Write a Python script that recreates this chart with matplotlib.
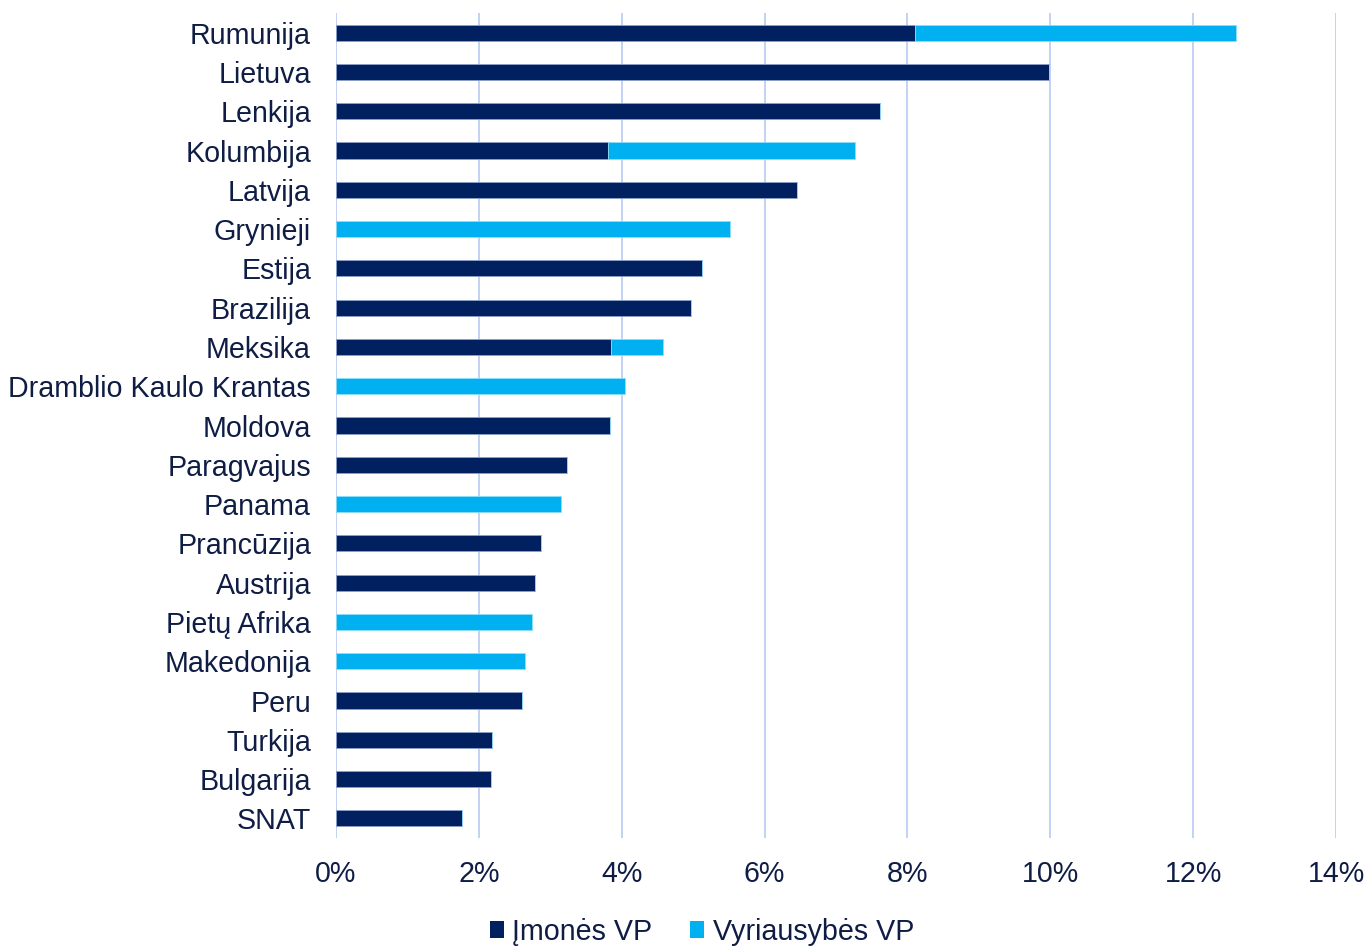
import matplotlib
matplotlib.use("Agg")
import matplotlib.pyplot as plt
from matplotlib.patches import Patch
from matplotlib.ticker import FuncFormatter, MultipleLocator

categories = ["Rumunija", "Lietuva", "Lenkija", "Kolumbija", "Latvija", "Grynieji",
              "Estija", "Brazilija", "Meksika", "Dramblio Kaulo Krantas", "Moldova",
              "Paragvajus", "Panama", "Prancūzija", "Austrija", "Pietų Afrika",
              "Makedonija", "Peru", "Turkija", "Bulgarija", "SNAT"]
imones = [8.10, 9.98, 7.62, 3.81, 6.45, 0.0, 5.13, 4.97, 3.85, 0.0, 3.83,
          3.23, 0.0, 2.87, 2.78, 0.0, 0.0, 2.61, 2.19, 2.17, 1.77]
vyriausybes = [4.50, 0.0, 0.0, 3.45, 0.0, 5.51, 0.0, 0.0, 0.73, 4.05, 0.0,
               0.0, 3.15, 0.0, 0.0, 2.74, 2.65, 0.0, 0.0, 0.0, 0.0]
series_names = ["Įmonės VP", "Vyriausybės VP"]

DARK = "#002060"
LIGHT = "#00B0F0"
TEXT = "#0F1D45"
GRID = "#C3D2F5"

plt.rcParams['font.family'] = ['Liberation Sans', 'DejaVu Sans']

fig = plt.figure(figsize=(13.68, 9.46), dpi=100)
ax = fig.add_axes([336/1368, 1-838/946, 1000/1368, (838-13)/946])

y = list(range(len(categories)))
h = 0.41
ax.barh(y, imones, height=h, color=DARK, edgecolor="#8EA0C8", linewidth=0.6, zorder=3)
ax.barh(y, vyriausybes, left=imones, height=h, color=LIGHT, edgecolor="#8FDCF8", linewidth=0.6, zorder=3)

ax.set_ylim(len(categories) - 0.5, -0.5)
ax.set_xlim(0, 14)
ax.set_yticks(y)
ax.set_yticklabels(categories)
ax.xaxis.set_major_locator(MultipleLocator(2))
ax.xaxis.set_major_formatter(FuncFormatter(lambda v, p: f"{v:.0f}%"))

ax.grid(axis="x", color=GRID, linewidth=1.4, zorder=0)
ax.set_axisbelow(True)
for s in ax.spines.values():
    s.set_visible(False)
ax.tick_params(axis="both", length=0, labelsize=20.6, labelcolor=TEXT)
ax.tick_params(axis="y", pad=18)
ax.tick_params(axis="x", pad=16)

handles = [Patch(facecolor=DARK, edgecolor='none'), Patch(facecolor=LIGHT, edgecolor='none')]
fig.legend(handles, series_names, loc="center", bbox_to_anchor=(0.513, 0.015), ncol=2,
           frameon=False, fontsize=20.6, labelcolor=TEXT, handlelength=0.5, handleheight=0.5,
           handletextpad=0.3, columnspacing=1.3)

fig.savefig("out.png", dpi=100)
